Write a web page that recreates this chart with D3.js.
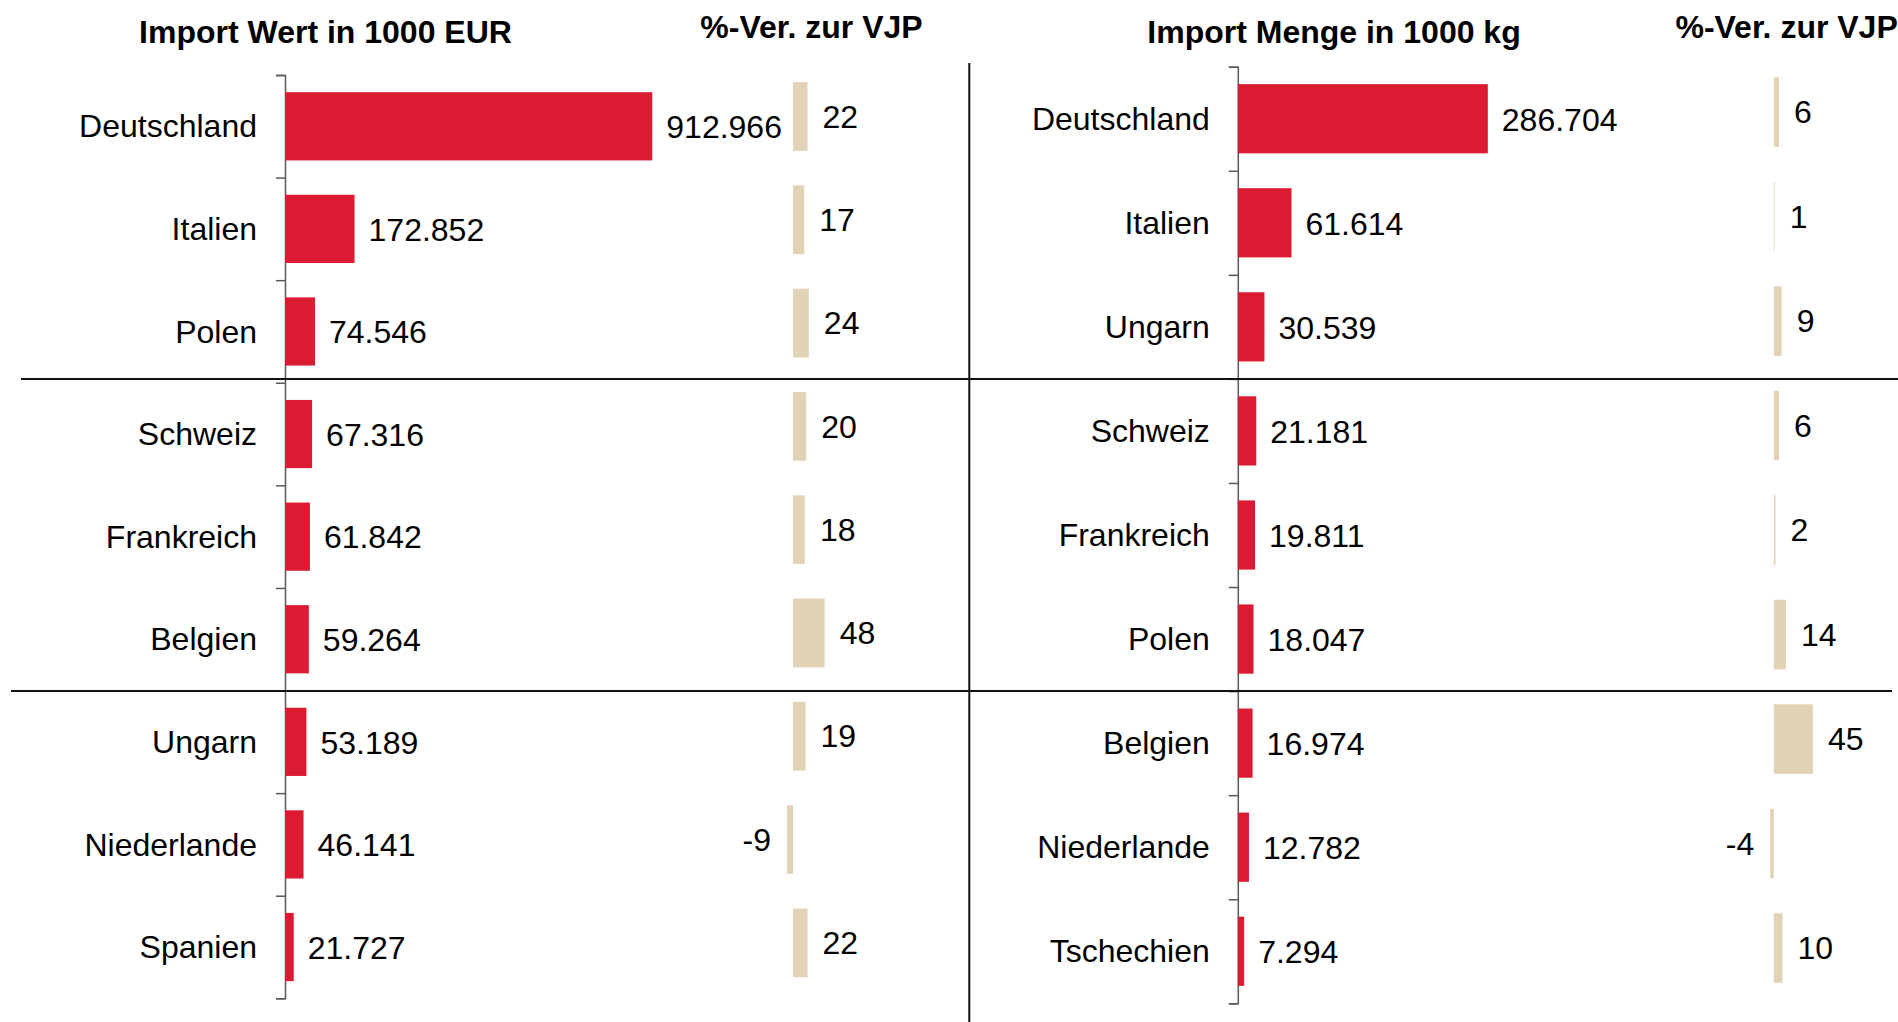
<!DOCTYPE html>
<html>
<head>
<meta charset="utf-8">
<script src="https://cdn.jsdelivr.net/npm/d3@7"></script>
<style>
  body { margin: 0; background: #fff; }
  svg text { font-family: "Liberation Sans", Arial, sans-serif; fill: #000; }
  .title { font-weight: bold; font-size: 32px; }
  .cat, .val, .pct { font-size: 32px; }
  .axis path, .axis line { stroke: #595959; stroke-width: 1.5px; }
</style>
</head>
<body>
<div id="root"></div>
<script>
// Wert (1000 EUR)
const wertCountries = ["Deutschland", "Italien", "Polen", "Schweiz", "Frankreich", "Belgien", "Ungarn", "Niederlande", "Spanien"];
const wertValues = [912966, 172852, 74546, 67316, 61842, 59264, 53189, 46141, 21727];
const wertChange = [22, 17, 24, 20, 18, 48, 19, -9, 22];

// Menge (1000 kg)
const mengeCountries = ["Deutschland", "Italien", "Ungarn", "Schweiz", "Frankreich", "Polen", "Belgien", "Niederlande", "Tschechien"];
const mengeValues = [286704, 61614, 30539, 21181, 19811, 18047, 16974, 12782, 7294];
const mengeChange = [6, 1, 9, 6, 2, 14, 45, -4, 10];

const titles = ["Import Wert in 1000 EUR", "Import Menge in 1000 kg"];
const changeTitle = "%-Ver. zur VJP";

const outerWidth = 1898;
const outerHeight = 1022;

const red = "#db1b31";
const beige = "#e2d3b7";

const de = d3.formatLocale({ decimal: ",", thousands: ".", grouping: [3], currency: ["", " €"] });
const fmt = de.format(",d");

let svg = d3.select("#root")
            .append("svg")
            .attr("width", outerWidth)
            .attr("height", outerHeight);

function panel(cfg) {
    let g = svg.append("g");

    let y = d3.scaleBand().domain(cfg.countries).range(cfg.yRange).paddingInner(0.335).paddingOuter(0.1675);
    let yPct = d3.scaleBand().domain(cfg.countries).range(cfg.pctRange).paddingInner(0.335).paddingOuter(0.1675);
    let x = d3.scaleLinear().domain(cfg.xDomain).range(cfg.xRange);
    let xPct = d3.scaleLinear().domain([-10, 50]).range(cfg.pctXRange);

    let data = cfg.countries.map((c, i) => ({ name: c, value: cfg.values[i], change: cfg.change[i] }));

    // axis with ticks at band boundaries
    let bounds = d3.scaleLinear().domain([0, cfg.countries.length]).range(cfg.yRange);
    g.append("g")
        .attr("class", "axis")
        .attr("transform", `translate(${x(0)}, 0)`)
        .call(d3.axisLeft(bounds).tickValues(d3.range(cfg.countries.length + 1)).tickSize(9).tickSizeOuter(9).tickFormat(""));

    g.selectAll(".bar")
        .data(data)
        .enter().append("rect")
        .attr("class", "bar")
        .attr("x", x(0))
        .attr("y", d => y(d.name))
        .attr("width", d => x(d.value) - x(0))
        .attr("height", y.bandwidth())
        .attr("fill", red);

    g.selectAll(".cat")
        .data(data)
        .enter().append("text")
        .attr("class", "cat")
        .attr("x", x(0) - 28)
        .attr("y", d => y(d.name) + y.bandwidth() / 2)
        .attr("dy", "0.35em")
        .style("text-anchor", "end")
        .text(d => d.name);

    g.selectAll(".val")
        .data(data)
        .enter().append("text")
        .attr("class", "val")
        .attr("x", d => x(d.value) + 14)
        .attr("y", d => y(d.name) + y.bandwidth() / 2)
        .attr("dy", "0.37em")
        .text(d => fmt(d.value));

    g.selectAll(".pctbar")
        .data(data)
        .enter().append("rect")
        .attr("class", "pctbar")
        .attr("x", d => xPct(Math.min(0, d.change)))
        .attr("y", d => yPct(d.name))
        .attr("width", d => Math.abs(xPct(d.change) - xPct(0)))
        .attr("height", yPct.bandwidth())
        .attr("fill", beige);

    g.selectAll(".pct")
        .data(data)
        .enter().append("text")
        .attr("class", "pct")
        .attr("x", d => d.change < 0 ? xPct(d.change) - 16 : xPct(d.change) + 15)
        .attr("y", d => yPct(d.name) + yPct.bandwidth() / 2)
        .attr("dy", "0.35em")
        .style("text-anchor", d => d.change < 0 ? "end" : "start")
        .text(d => d.change);

    g.append("text")
        .attr("class", "title")
        .attr("x", cfg.titleX)
        .attr("y", 43)
        .style("text-anchor", "middle")
        .text(cfg.title);

    g.append("text")
        .attr("class", "title")
        .attr("x", cfg.pctTitleX)
        .attr("y", 38)
        .style("text-anchor", "middle")
        .text(changeTitle);

    return bounds;
}

panel({
    countries: wertCountries, values: wertValues, change: wertChange,
    yRange: [75, 998.3], pctRange: [64.8, 994.5],
    xDomain: [0, 1000000], xRange: [285, 687.3],
    pctXRange: [793 - 6.6, 793 + 33],
    title: titles[0], titleX: 325.5, pctTitleX: 811.5
});

let rightBounds = panel({
    countries: mengeCountries, values: mengeValues, change: mengeChange,
    yRange: [66.7, 1003.3], pctRange: [59.8, 1000.3],
    xDomain: [0, 300000], xRange: [1237.8, 1499.4],
    pctXRange: [1773.8 - 8.7, 1773.8 + 43.5],
    title: titles[1], titleX: 1334, pctTitleX: 1786.6
});

// group separators
svg.append("line")
    .attr("x1", 21).attr("x2", 1898)
    .attr("y1", rightBounds(3)).attr("y2", rightBounds(3))
    .attr("stroke", "#111").attr("stroke-width", 2);
svg.append("line")
    .attr("x1", 11).attr("x2", 1892)
    .attr("y1", rightBounds(6)).attr("y2", rightBounds(6))
    .attr("stroke", "#111").attr("stroke-width", 2);
svg.append("line")
    .attr("x1", 969.3).attr("x2", 969.3)
    .attr("y1", 63).attr("y2", outerHeight)
    .attr("stroke", "#111").attr("stroke-width", 2);
</script>
</body>
</html>
